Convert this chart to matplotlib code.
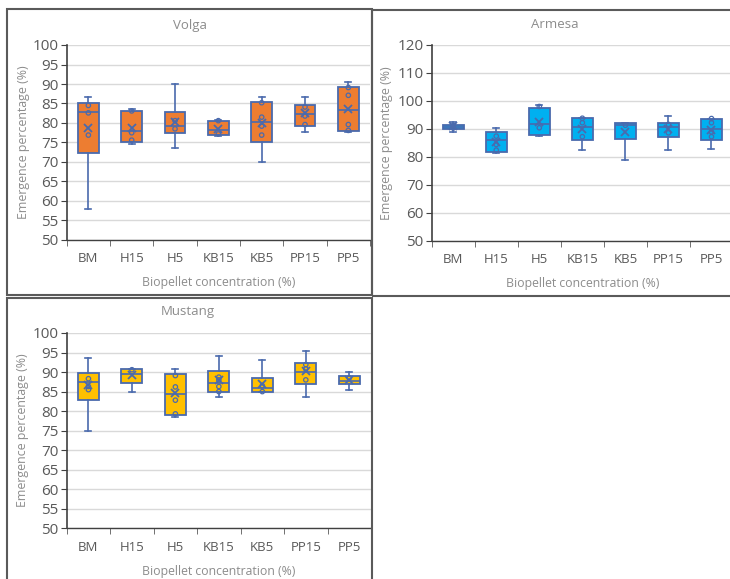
import matplotlib.pyplot as plt
from matplotlib.patches import Rectangle

plt.rcParams["font.family"] = ["Open Sans", "DejaVu Sans"]

categories = ["BM", "H15", "H5", "KB15", "KB5", "PP15", "PP5"]

# Volga
volga_whislo = [57.9, 74.5, 73.5, 76.6, 70.1, 77.6, 77.7]
volga_q1 = [72.2, 75.2, 77.4, 76.9, 75.2, 79.2, 77.9]
volga_med = [82.7, 78.0, 79.3, 78.1, 80.2, 82.2, 83.3]
volga_q3 = [85.0, 83.2, 82.9, 80.6, 85.3, 84.7, 89.3]
volga_whishi = [86.7, 83.6, 90.1, 80.7, 86.6, 86.6, 90.6]
volga_mean = [78.6, 78.8, 80.3, 78.5, 80.0, 82.5, 83.7]
volga_points = [[84.5, 82.6, 76.9], [83.1, 77.5, 75.6], [80.6, 78.5], [80.6, 77.2],
                [85.2, 81.5, 79.2, 76.9], [84.1, 81.8, 79.6], [89.1, 87.1, 79.6, 78.1]]

# Armesa
armesa_whislo = [88.9, 81.2, 87.3, 82.6, 78.9, 82.6, 82.9]
armesa_q1 = [89.8, 81.8, 87.8, 86.0, 86.2, 87.2, 86.0]
armesa_med = [90.8, 86.1, 91.6, 90.6, 91.3, 90.8, 90.1]
armesa_q3 = [91.5, 89.0, 97.6, 93.8, 92.0, 92.2, 93.4]
armesa_whishi = [92.5, 90.3, 98.7, 94.0, 92.0, 94.7, 93.7]
armesa_mean = [90.9, 85.4, 92.5, 89.8, 89.0, 89.8, 89.5]
armesa_points = [[91.2, 90.3], [87.4, 84.4, 82.4], [98.0, 90.4], [93.8, 92.2, 87.2],
                 [91.3], [91.6, 88.6], [93.7, 92.2, 88.9, 87.2]]

# Mustang
mustang_whislo = [75.0, 85.0, 78.5, 83.6, 85.0, 83.6, 85.5]
mustang_q1 = [82.9, 87.3, 78.9, 84.8, 85.0, 86.9, 87.0]
mustang_med = [87.4, 89.6, 84.4, 87.1, 85.9, 90.0, 87.7]
mustang_q3 = [89.8, 90.7, 89.6, 90.3, 88.5, 92.4, 89.0]
mustang_whishi = [93.5, 90.8, 90.8, 94.0, 93.0, 95.5, 90.0]
mustang_mean = [86.6, 89.3, 84.6, 87.9, 86.9, 90.2, 88.0]
mustang_points = [[88.3, 86.3, 85.5], [90.6], [89.1, 86.2, 82.8, 79.3],
                  [88.7, 88.0, 86.3, 85.0], [86.5, 85.0], [91.9, 90.8, 88.0], [88.5]]

W, H = 730, 579
EDGE = "#4a6aad"
GRAY = "#595959"
LABEL_GRAY = "#8c8c8c"


def px_axes(fig, left, top, right, bottom):
    return fig.add_axes([left / W, 1 - bottom / H, (right - left) / W, (bottom - top) / H])


def draw_panel(ax, title, title_xy, fill, ylim, yticks,
               whislo, q1, med, q3, whishi, mean, points):
    stats = []
    for i, name in enumerate(categories):
        stats.append(dict(label=name, whislo=whislo[i], q1=q1[i], med=med[i],
                          q3=q3[i], whishi=whishi[i], mean=mean[i], fliers=[]))
    pos = list(range(1, len(categories) + 1))
    ax.bxp(stats, positions=pos, widths=0.48, capwidths=0.14, patch_artist=True,
           showmeans=True, showfliers=False,
           boxprops=dict(facecolor=fill, edgecolor=EDGE, linewidth=1.3),
           medianprops=dict(color=EDGE, linewidth=1.2),
           whiskerprops=dict(color=EDGE, linewidth=1.2),
           capprops=dict(color=EDGE, linewidth=1.2),
           meanprops=dict(marker="x", markeredgecolor=EDGE, markersize=6,
                          markeredgewidth=1.3))
    for p, vals in zip(pos, points):
        ax.scatter([p] * len(vals), vals, s=10, facecolors="none",
                   edgecolors=EDGE, linewidths=0.9, zorder=4)

    ax.set_xlim(0.5, len(categories) + 0.5)
    ax.set_ylim(*ylim)
    ax.set_yticks(yticks)
    ax.set_xticks(pos)
    ax.set_xticklabels(categories)
    ax.set_xticks([p - 0.5 for p in pos] + [pos[-1] + 0.5], minor=True)
    ax.tick_params(axis="x", which="major", length=0, pad=9, labelsize=9.5, labelcolor=GRAY)
    ax.tick_params(axis="x", which="minor", length=4, color=GRAY, direction="out")
    ax.tick_params(axis="y", length=4, color="#404040", labelsize=11, labelcolor=GRAY, pad=2)
    ax.grid(axis="y", color="#d9d9d9", linewidth=1)
    ax.set_axisbelow(True)
    for side in ["top", "right"]:
        ax.spines[side].set_visible(False)
    ax.spines["left"].set_color("#404040")
    ax.spines["bottom"].set_color("#404040")
    ax.spines["left"].set_linewidth(1.2)
    ax.spines["bottom"].set_linewidth(1.0)

    ax.set_xlabel("Biopellet concentration (%)", fontsize=8.8, color=LABEL_GRAY)
    ax.set_ylabel("Emergence percentage (%)", fontsize=8.9, color=LABEL_GRAY)
    ax.figure.text(title_xy[0] / W, 1 - title_xy[1] / H, title, fontsize=9.5,
                   color=LABEL_GRAY, ha="center", va="center")


fig = plt.figure(figsize=(W / 100, H / 100), dpi=100)

# panel frames
for (l, t, r, b) in [(7, 9, 372, 295), (372, 10, 735, 296), (7, 298, 372, 590)]:
    fig.patches.append(Rectangle((l / W, 1 - b / H), (r - l) / W, (b - t) / H,
                                 transform=fig.transFigure, fill=False,
                                 edgecolor="#5a5a5a", linewidth=1.5))

ax1 = px_axes(fig, 66.7, 45, 370, 240)
draw_panel(ax1, "Volga", (190, 25), "#ed7d31", (50, 100), range(50, 101, 5),
           volga_whislo, volga_q1, volga_med, volga_q3, volga_whishi,
           volga_mean, volga_points)
ax1.xaxis.set_label_coords(0.5, -0.185)
ax1.yaxis.set_label_coords(-0.122, 0.5)

ax2 = px_axes(fig, 431.7, 45, 733, 240.7)
draw_panel(ax2, "Armesa", (555, 25), "#00b0f0", (50, 120), range(50, 121, 10),
           armesa_whislo, armesa_q1, armesa_med, armesa_q3, armesa_whishi,
           armesa_mean, armesa_points)
ax2.xaxis.set_label_coords(0.5, -0.185)
ax2.yaxis.set_label_coords(-0.128, 0.5)

ax3 = px_axes(fig, 66.7, 333, 371, 528.3)
draw_panel(ax3, "Mustang", (188, 312), "#ffc000", (50, 100), range(50, 101, 5),
           mustang_whislo, mustang_q1, mustang_med, mustang_q3, mustang_whishi,
           mustang_mean, mustang_points)
ax3.xaxis.set_label_coords(0.5, -0.19)
ax3.yaxis.set_label_coords(-0.124, 0.5)

fig.savefig("out.png", dpi=100)
